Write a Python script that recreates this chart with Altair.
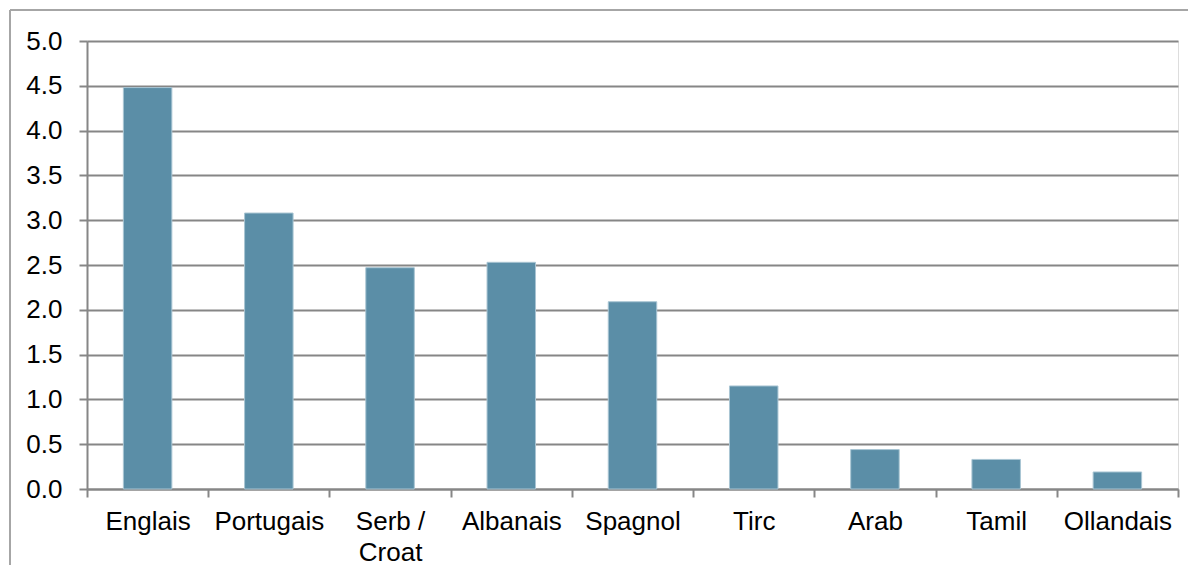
import altair as alt
import pandas as pd

languages = ["Englais", "Portugais", "Serb / Croat", "Albanais", "Spagnol",
             "Tirc", "Arab", "Tamil", "Ollandais"]
values = [4.48, 3.08, 2.47, 2.53, 2.09, 1.15, 0.44, 0.33, 0.19]
y_ticks = [0, 0.5, 1.0, 1.5, 2.0, 2.5, 3.0, 3.5, 4.0, 4.5, 5.0]

df = pd.DataFrame({"lang": languages, "val": values})

W, H = 1091, 448
PAD_L, PAD_T, PAD_R, PAD_B = 79, 33, 10, 76
FONT = "Liberation Sans"
GRID = "#868686"

base = alt.Chart(df)

bars = base.mark_bar(
    width=alt.RelativeBandSize(0.4),
    color="#5b8ea7",
    stroke="#a9c5d3",
    strokeWidth=1,
).encode(
    x=alt.X(
        "lang:N",
        sort=languages,
        scale=alt.Scale(paddingInner=0, paddingOuter=0),
        axis=alt.Axis(
            title=None,
            labelAngle=0,
            labelFont=FONT,
            labelFontSize=26,
            labelColor="#000000",
            labelPadding=11,
            labelLineHeight=31,
            labelExpr="datum.label == 'Serb / Croat' ? ['Serb /', 'Croat'] : datum.label",
            tickBand="extent",
            tickSize=8,
            tickColor=GRID,
            tickWidth=2,
            domainColor=GRID,
            domainWidth=2,
            grid=False,
        ),
    ),
    y=alt.Y(
        "val:Q",
        scale=alt.Scale(domain=[0, 5], nice=False),
        axis=alt.Axis(
            title=None,
            values=y_ticks,
            format=".1f",
            labelFont=FONT,
            labelFontSize=26,
            labelColor="#000000",
            labelPadding=17,
            tickSize=8,
            tickColor=GRID,
            tickWidth=2,
            domainColor=GRID,
            domainWidth=2,
            grid=True,
            gridColor=GRID,
            gridWidth=2,
        ),
    ),
)

frame_top = base.mark_rule(color="#a6a6a6", strokeWidth=1.5).encode(
    x=alt.value(-77), x2=alt.value(3000), y=alt.value(-31)
)
frame_left = base.mark_rule(color="#a6a6a6", strokeWidth=1.5).encode(
    x=alt.value(-77), y=alt.value(-31), y2=alt.value(3000)
)

chart = alt.layer(frame_top, frame_left, bars).properties(
    width=W,
    height=H,
    autosize=alt.AutoSizeParams(type="none"),
    padding={"left": PAD_L, "top": PAD_T, "right": PAD_R, "bottom": PAD_B},
).configure_view(stroke=None).configure(background="white")

chart.save("out.html", embed_options={"renderer": "svg", "actions": False})
